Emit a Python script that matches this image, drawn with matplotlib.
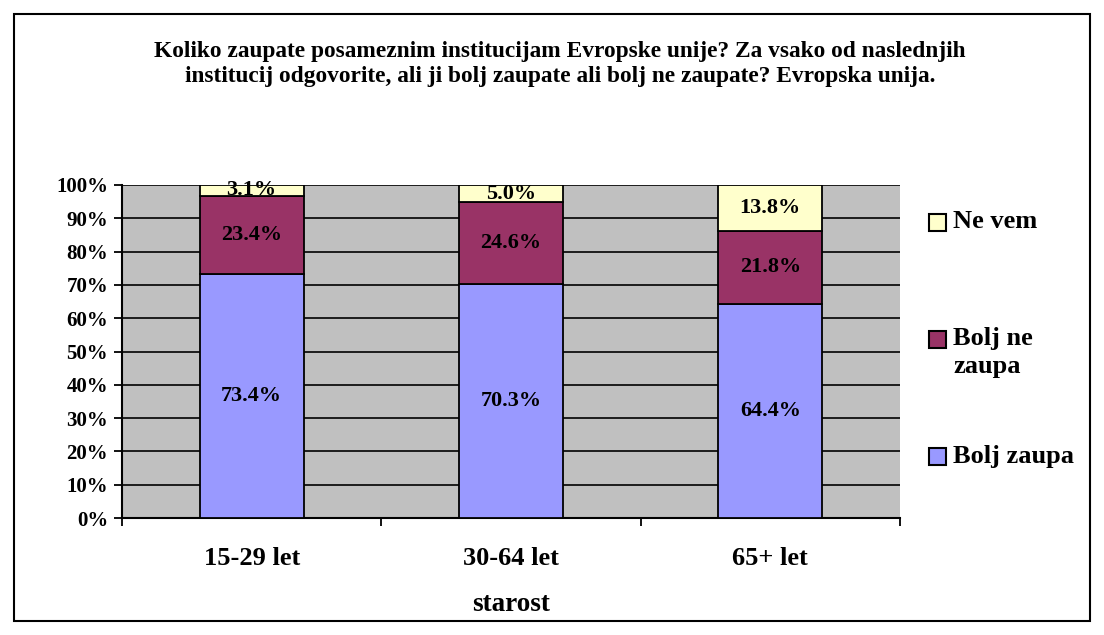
import matplotlib
matplotlib.use("Agg")
import matplotlib.pyplot as plt
from matplotlib.patches import Rectangle
import numpy as np

categories = ["15-29 let", "30-64 let", "65+ let"]
bolj_zaupa = [73.4, 70.3, 64.4]
bolj_ne_zaupa = [23.4, 24.6, 21.8]
ne_vem = [3.1, 5.0, 13.8]
series_names = ["Bolj zaupa", "Bolj ne zaupa", "Ne vem"]
colors = ["#9999FF", "#993366", "#FFFFCC"]
title = ("Koliko zaupate posameznim institucijam Evropske unije? Za vsako od naslednjih\n"
         "institucij odgovorite, ali ji bolj zaupate ali bolj ne zaupate? Evropska unija.")

plt.rcParams['font.family'] = ['Liberation Serif', 'DejaVu Serif']
plt.rcParams['font.weight'] = 'bold'

W, H = 1104, 635
fig = plt.figure(figsize=(W/100, H/100), dpi=100)
ax = fig.add_axes([122/W, 1-518/H, (900-122)/W, (518-185)/H])
ax.set_facecolor("#C0C0C0")

x = np.arange(len(categories))
series = [bolj_zaupa, bolj_ne_zaupa, ne_vem]
bottom = np.zeros(len(categories))
for vals, col in zip(series, colors):
    vals = np.array(vals)
    ax.bar(x, vals, 0.4, bottom=bottom, color=col, edgecolor="black", linewidth=1.3, zorder=3)
    for xi, b, v in zip(x, bottom, vals):
        ax.text(xi, b + v/2, f"{v:.1f}%", ha="center", va="center", fontsize=16,
                fontweight="bold", zorder=4)
    bottom = bottom + vals

ax.set_xlim(-0.5, 2.5)
ax.set_ylim(0, 100)
ax.set_yticks(np.arange(0, 101, 10))
ax.set_yticklabels([f"{v}%" for v in range(0, 101, 10)], fontsize=15, fontweight="bold")
ax.yaxis.grid(True, color="black", linewidth=1.2, zorder=1)
ax.set_axisbelow(True)
ax.set_xticks(x)
ax.set_xticklabels(categories, fontsize=19, fontweight="bold")
ax.tick_params(axis="x", which="major", length=0, pad=21)
ax.set_xticks([-0.5, 0.5, 1.5, 2.5], minor=True)
ax.tick_params(axis="x", which="minor", length=6, width=1.3, direction="out")
ax.tick_params(axis="y", length=6, width=1.3, direction="out", pad=4)
for s in ["top", "right"]:
    ax.spines[s].set_visible(False)
for s in ["left", "bottom"]:
    ax.spines[s].set_linewidth(1.5)
ax.set_xlabel("starost", fontsize=19.5, fontweight="bold", labelpad=16)

fig.text(560/W, 1-64/H, title, ha="center", va="center", fontsize=16.8,
         fontweight="bold", linespacing=1.3)

# legend
for col, yc in [(colors[2], 222), (colors[1], 339), (colors[0], 456)]:
    fig.patches.append(Rectangle((929/W, 1-(yc+9)/H), 17/W, 17/H, facecolor=col,
                                 edgecolor="black", linewidth=1.5, transform=fig.transFigure))

first, second, third = series_names[1].split(" ")
fig.text(953/W, 1-222/H, series_names[2], ha="left", va="center", fontsize=19, fontweight="bold")
fig.text(953/W, 1-339/H, first + " " + second, ha="left", va="center", fontsize=19, fontweight="bold")
fig.text(953/W, 1-366/H, third, ha="left", va="center", fontsize=19, fontweight="bold")
fig.text(953/W, 1-457/H, series_names[0], ha="left", va="center", fontsize=19, fontweight="bold")

fig.patches.append(Rectangle((14/W, 1-621/H), (1090-14)/W, (621-14)/H, fill=False,
                             edgecolor="black", linewidth=1.5, transform=fig.transFigure))

fig.savefig("out.png", dpi=100, facecolor="white")
